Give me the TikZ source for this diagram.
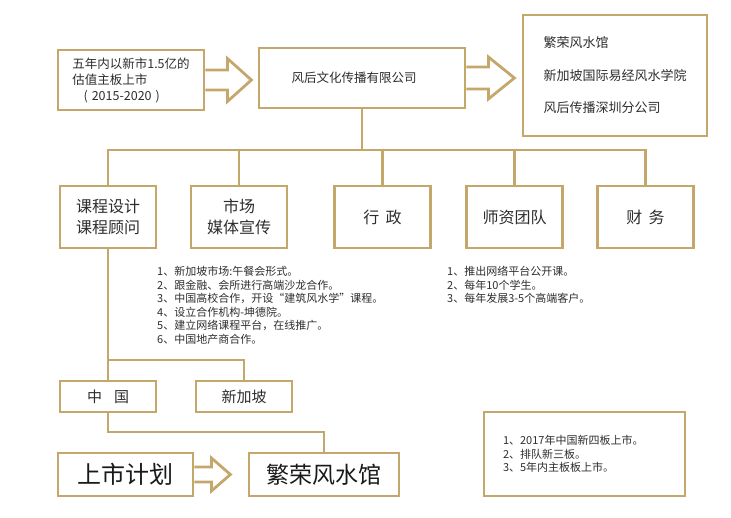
\documentclass[tikz,border=0pt]{standalone}
\usepackage{fontspec}
\setmainfont{Noto Sans CJK SC}
\usepackage{xcolor}
\usepackage{tikz}
\usetikzlibrary{
    positioning,
    calc
}
\definecolor{gold}{RGB}{197,167,107}
\definecolor{ink}{RGB}{45,45,45}
\tikzset{
    box/.style={
        rectangle, draw=gold, line width=2.8pt,
        align=center, text=ink, inner sep=2pt
    },
    rowbox/.style={
        box, minimum width=96pt, minimum height=62pt,
        font=\fontsize{16}{21}\selectfont
    },
    subbox/.style={
        box, minimum width=96pt, minimum height=31pt,
        font=\fontsize{15}{18}\selectfont
    },
    bigbox/.style={
        box, minimum height=43pt, text=black!90
    },
    link/.style={
        draw=gold, line width=2.8pt
    },
    hollow/.style={
        draw=gold, line width=2.8pt
    },
    listtext/.style={
        align=left, text=ink, inner sep=0pt,
        font=\fontsize{11}{13.5}\selectfont
    }
}
% start, length, shaft half width, head half width, head length
\newcommand{\hollowarrow}[5]{%
    \draw[hollow] ($(#1)+(0,-#3)$) -- ++({#2-#5},0) -- ++(0,{#3-#4})
        -- ($(#1)+(#2,0)$) -- ($(#1)+({#2-#5},#4)$) -- ++(0,{#3-#4})
        -- ($(#1)+(0,#3)$);
}

\begin{document}
\begin{tikzpicture}[x=1pt, y=-1pt, font=\fontsize{12.5}{16}\selectfont]
    \useasboundingbox (0,0) rectangle (731,518);

    \node[box, minimum width=146pt, minimum height=60pt, align=left] (goal) at (131,80)
        {五年内以新市1.5亿的\\估值主板上市\\\hspace{0.9em}(\hspace{4pt}2015-2020\hspace{4pt})};
    \node[box, minimum width=206pt, minimum height=60pt] (company) at (362,78) {风后文化传播有限公司\hspace{16pt}};
    \node[box, minimum width=184pt, minimum height=121pt, align=left,
        font=\fontsize{13}{32.5}\selectfont] (brands) at (615,75.5)
        {繁荣风水馆\\新加坡国际易经风水学院\\风后传播深圳分公司};

    \hollowarrow{goal.east}{46}{10}{21.5}{24}
    \hollowarrow{company.east}{48}{11}{21}{26}

    \node[rowbox] (course) at (108,217) {课程设计\\课程顾问};
    \node[rowbox] (market) at (239,217) {市场\\媒体宣传};
    \node[rowbox] (admin) at (382.5,217) {行\hspace{0.4em}政};
    \node[rowbox] (teachers) at (514.5,217) {师资团队};
    \node[rowbox] (finance) at (645.5,217) {财\hspace{0.4em}务};

    \coordinate (bus) at (0,150);
    \draw[link] (company.south) -- (company.south |- bus);
    \draw[link] (course.north) |- (finance.north |- bus) -- (finance.north);
    \draw[link] (market.north) -- (market.north |- bus);
    \draw[link] (admin.north) -- (admin.north |- bus);
    \draw[link] (teachers.north) -- (teachers.north |- bus);

    \node[listtext, anchor=north west] (tasks) at (157,266)
        {1、新加坡市场:午餐会形式。\\2、跟金融、会所进行高端沙龙合作。\\3、中国高校合作，开设“建筑风水学”课程。\\4、设立合作机构-坤德院。\\5、建立网络课程平台，在线推广。\\6、中国地产商合作。};
    \node[listtext, anchor=north west] (recruit) at (447,266)
        {1、推出网络平台公开课。\\2、每年10个学生。\\3、每年发展3-5个高端客户。};

    \node[subbox] (china) at (108,396.5) {中\hspace{0.8em}国};
    \node[subbox] (singapore) at (244,396.5) {新加坡};

    \coordinate (split) at (0,360);
    \draw[link] (course.south) -- (china.north);
    \draw[link] (china.north |- split) -| (singapore.north);

    \node[bigbox, minimum width=135pt, font=\fontsize{24}{28}\selectfont] (plan) at (125.5,474.5) {上市计划};
    \node[bigbox, minimum width=150pt, font=\fontsize{23}{28}\selectfont] (shop) at (324,474.5) {繁荣风水馆};
    \hollowarrow{plan.east}{36}{7.5}{16.5}{19}

    \coordinate (merge) at (0,432);
    \draw[link] (china.south) |- (shop.north |- merge) -- (shop.north);

    \node[box, minimum width=201pt, minimum height=84pt, text width=163pt, align=left,
        font=\fontsize{11}{13.5}\selectfont] (listing) at (584.5,454)
        {1、2017年中国新四板上市。\\2、排队新三板。\\3、5年内主板板上市。};
\end{tikzpicture}
\end{document}
